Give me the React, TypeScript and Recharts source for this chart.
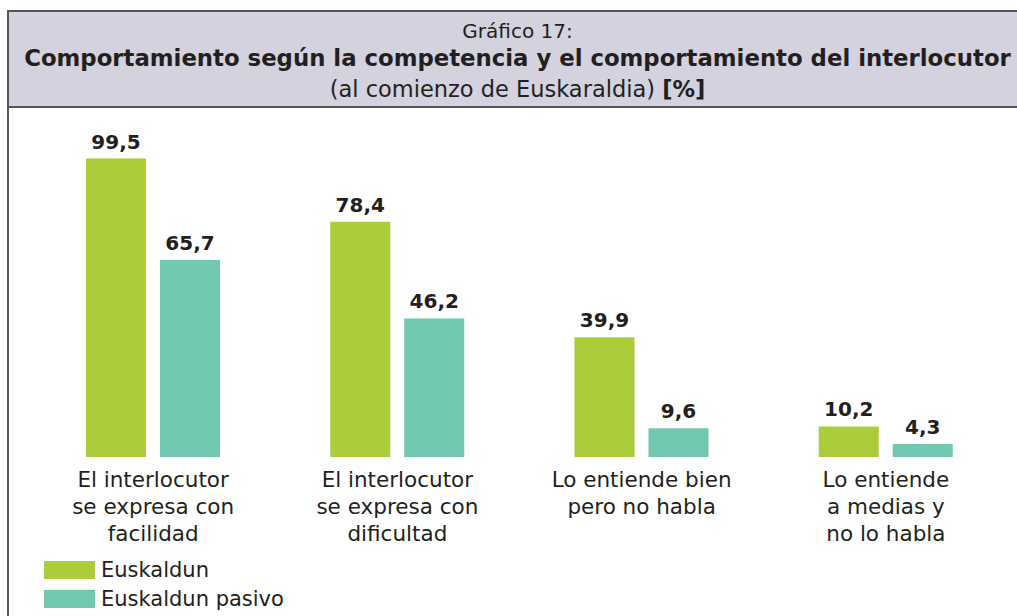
import { BarChart, Bar, XAxis, YAxis, LabelList } from 'recharts';

const categories = [
  'El interlocutor\nse expresa con\nfacilidad',
  'El interlocutor\nse expresa con\ndificultad',
  'Lo entiende bien\npero no habla',
  'Lo entiende\na medias y\nno lo habla',
];
const euskaldun = [99.5, 78.4, 39.9, 10.2];
const pasivo = [65.7, 46.2, 9.6, 4.3];
const seriesNames = ['Euskaldun', 'Euskaldun pasivo'];
const colors = ['#abcd3b', '#6fc8af'];

const data = categories.map((name, i) => ({ name, euskaldun: euskaldun[i], pasivo: pasivo[i] }));

const FONT = '"DejaVu Sans", sans-serif';
const INK = '#231f20';

const fmt = (v: any) => String(v).replace('.', ',');

function CategoryTick(props: any) {
  const { x, y, payload } = props;
  const lines = String(payload.value).split('\n');
  return (
    <text x={x} y={y} textAnchor="middle" fill={INK} fontSize={21.5} fontFamily={FONT}>
      {lines.map((l, i) => (
        <tspan key={i} x={x} y={y + 30 + i * 27}>
          {l}
        </tspan>
      ))}
    </text>
  );
}

function LegendBox() {
  return (
    <div style={{ position: 'absolute', left: 44, top: 555, fontFamily: FONT, fontSize: 21, color: INK }}>
      {seriesNames.map((n, i) => (
        <div key={n} style={{ display: 'flex', alignItems: 'center', height: 29 }}>
          <span style={{ display: 'inline-block', width: 51, height: 18, background: colors[i], marginRight: 6 }} />
          {n}
        </div>
      ))}
    </div>
  );
}

export default function App() {
  return (
    <div style={{ position: 'absolute', left: 0, top: 0, width: 1017, height: 616, background: '#fff', overflow: 'hidden' }}>
      {/* frame + title box */}
      <div
        style={{
          position: 'absolute',
          left: 7,
          top: 10,
          width: 1030,
          height: 640,
          borderLeft: '2px solid #555',
          borderTop: '2px solid #555',
          boxSizing: 'border-box',
        }}
      />
      <div
        style={{
          position: 'absolute',
          left: 9,
          top: 12,
          width: 1017,
          height: 94,
          background: '#d3d2de',
          borderBottom: '2px solid #555',
          fontFamily: FONT,
          color: INK,
          textAlign: 'center',
          whiteSpace: 'nowrap',
        }}
      >
        <div style={{ position: 'absolute', left: 0, right: 0, top: 7, fontSize: 20 }}>Gráfico 17:</div>
        <div style={{ position: 'absolute', left: 0, right: 0, top: 33, fontSize: 22.8, fontWeight: 'bold' }}>
          Comportamiento según la competencia y el comportamiento del interlocutor
        </div>
        <div style={{ position: 'absolute', left: 0, right: 0, top: 64, fontSize: 22.5 }}>
          (al comienzo de Euskaraldia) <b>[%]</b>
        </div>
      </div>

      <div style={{ position: 'absolute', left: 0, top: 0 }}>
        <BarChart
          width={1017}
          height={616}
          data={data}
          margin={{ top: 157, right: 9, left: 31, bottom: 0 }}
          barSize={60}
          barGap={14}
        >
          <XAxis
            dataKey="name"
            height={159}
            axisLine={false}
            tickLine={false}
            tickSize={0}
            tickMargin={0}
            interval={0}
            tick={<CategoryTick />}
          />
          <YAxis hide domain={[0, 100]} />
          <Bar dataKey="euskaldun" name={seriesNames[0]} fill={colors[0]} isAnimationActive={false}>
            <LabelList
              dataKey="euskaldun"
              position="top"
              offset={10}
              formatter={fmt}
              fill={INK}
              fontSize={20}
              fontWeight="bold"
              fontFamily={FONT}
            />
          </Bar>
          <Bar dataKey="pasivo" name={seriesNames[1]} fill={colors[1]} isAnimationActive={false}>
            <LabelList
              dataKey="pasivo"
              position="top"
              offset={10}
              formatter={fmt}
              fill={INK}
              fontSize={20}
              fontWeight="bold"
              fontFamily={FONT}
            />
          </Bar>
        </BarChart>
      </div>
      <LegendBox />
    </div>
  );
}
